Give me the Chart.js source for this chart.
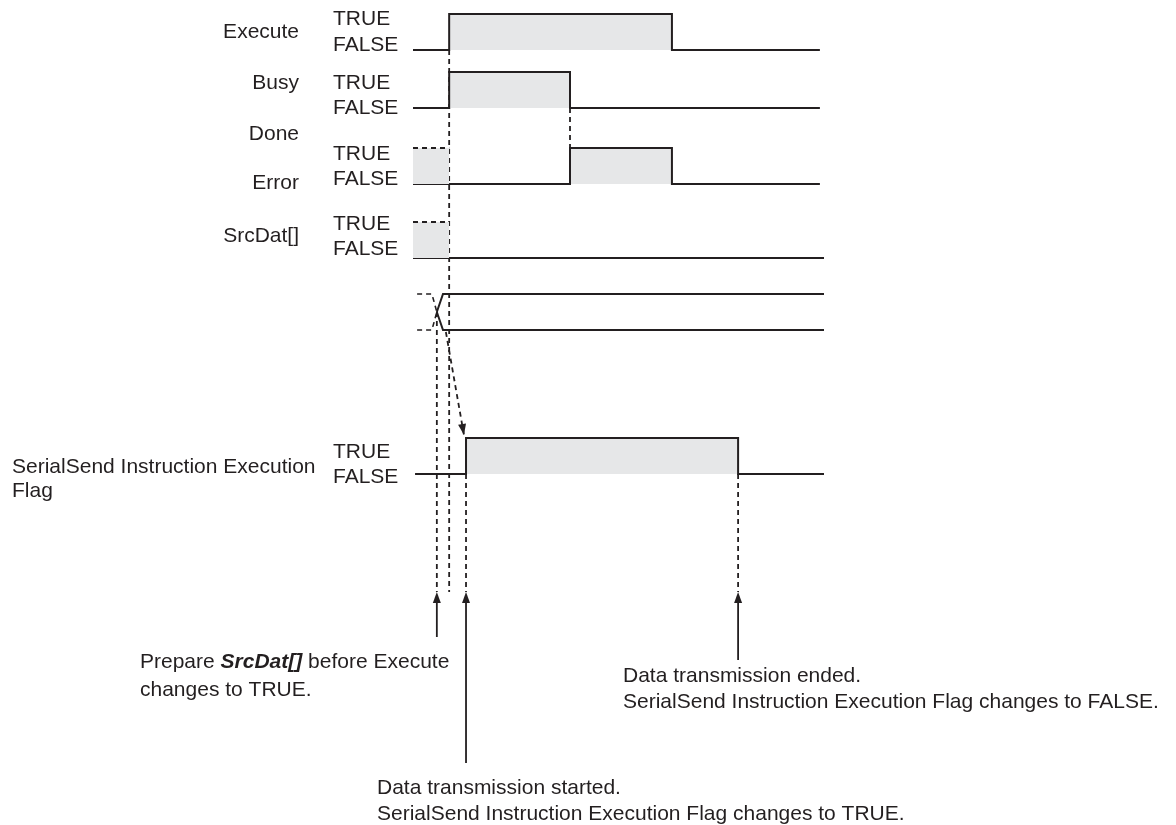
<!DOCTYPE html>
<html>
<head>
<meta charset="utf-8">
<title>SerialSend timing chart</title>
<script src="https://cdn.jsdelivr.net/npm/chart.js@4.4.1/dist/chart.umd.min.js"></script>
<style>
  html, body { margin: 0; padding: 0; background: #fff; }
  #wrap { width: 1176px; height: 825px; }
</style>
</head>
<body>
<div id="wrap"><canvas id="timing" width="1176" height="825"></canvas></div>
<script>
// Time runs 0..100 across the waveform span. Each signal: edge times + level after each edge.
const executeTimes = [0, 8.8, 63.0, 99];
const executeLevels = [0, 1, 0, 0];
const busyTimes = [0, 8.8, 38.2, 99];
const busyLevels = [0, 1, 0, 0];
const doneTimes = [0, 38.2, 63.0, 99];
const doneLevels = [0, 1, 0, 0];
const srcDatTimes = [0, 100];
const srcDatLevels = [0, 0];
const sendTimes = [0.5, 12.9, 79.1, 100];
const sendLevels = [0, 1, 0, 0];
// undefined ("don't care") span before Execute goes TRUE
const unknownTimes = [0, 8.8];
// data bus: old value (dashed) then new value crossing over
const busOldTimes = [1, 4.6, 5.8];
const busNewTimes = [5.8, 7.3, 100];
const busTopLevels = [1, 1, 0.5];
const busTopNewLevels = [0.5, 1, 1];
const busBottomLevels = [0, 0, 0.5];
const busBottomNewLevels = [0.5, 0, 0];

// event times marked by arrows
const prepareTime = 5.8;
const startTime = 12.9;
const endTime = 79.1;
const executeRise = 8.8;
const busyFall = 38.2;

const signalNames = ['Execute', 'Busy', 'Done', 'Error', 'SrcDat[]'];
const levelNames = ['TRUE', 'FALSE'];
const sendName = ['SerialSend Instruction Execution', 'Flag'];
const prepareNote = ['Prepare ', 'SrcDat[]', ' before Execute', 'changes to TRUE.'];
const endNote = ['Data transmission ended.', 'SerialSend Instruction Execution Flag changes to FALSE.'];
const startNote = ['Data transmission started.', 'SerialSend Instruction Execution Flag changes to TRUE.'];

// layout (pixels)
const INK = '#231f20';
const SHADE = '#e6e7e8';
const FONT = '"Liberation Sans", Arial, Helvetica, sans-serif';
const AMP = 36;
const LANE = { execute: 50, busy: 108, done: 184, srcDat: 258, bus: 330, send: 474 };
const ARROW_TIP = 592;
const DASH = [5, 4];

function wave(times, levels, low) {
  return times.map((t, i) => ({ x: t, y: low - levels[i] * AMP }));
}

function signal(times, levels, low) {
  return {
    data: wave(times, levels, low),
    stepped: 'before',
    borderColor: INK,
    borderWidth: 2,
    backgroundColor: SHADE,
    fill: { value: low },
    borderJoinStyle: 'miter'
  };
}

function unknown(low) {
  return {
    data: wave(unknownTimes, [1, 1], low),
    borderColor: INK,
    borderWidth: 1.8,
    borderDash: DASH,
    backgroundColor: SHADE,
    fill: { value: low }
  };
}

function plain(points, dashed, width) {
  return {
    data: points,
    borderColor: INK,
    borderWidth: width || 2,
    borderDash: dashed ? DASH : [],
    fill: false
  };
}

const datasets = [
  signal(executeTimes, executeLevels, LANE.execute),
  signal(busyTimes, busyLevels, LANE.busy),
  unknown(LANE.done),
  signal(doneTimes, doneLevels, LANE.done),
  unknown(LANE.srcDat),
  signal(srcDatTimes, srcDatLevels, LANE.srcDat),
  plain(wave(busOldTimes, busTopLevels, LANE.bus), true, 1.6),
  plain(wave(busOldTimes, busBottomLevels, LANE.bus), true, 1.6),
  plain(wave(busNewTimes, busTopNewLevels, LANE.bus), false, 2),
  plain(wave(busNewTimes, busBottomNewLevels, LANE.bus), false, 2),
  signal(sendTimes, sendLevels, LANE.send),
  // dashed guides
  plain([{ x: executeRise, y: LANE.execute }, { x: executeRise, y: ARROW_TIP }], true, 1.8),
  plain([{ x: busyFall, y: LANE.busy }, { x: busyFall, y: LANE.done - AMP }], true, 1.8),
  plain([{ x: prepareTime, y: LANE.bus - AMP / 2 }, { x: prepareTime, y: ARROW_TIP }], true, 1.8),
  plain([{ x: startTime, y: LANE.send }, { x: startTime, y: ARROW_TIP }], true, 1.8),
  plain([{ x: endTime, y: LANE.send }, { x: endTime, y: ARROW_TIP }], true, 1.8),
  // Execute -> flag causal arrow
  plain([{ x: 8.0, y: LANE.bus + 2 }, { x: 12.4, y: LANE.send - AMP - 3 }], true, 1.8),
  // annotation arrow shafts
  plain([{ x: prepareTime, y: ARROW_TIP + 8 }, { x: prepareTime, y: 637 }], false, 1.8),
  plain([{ x: startTime, y: ARROW_TIP + 8 }, { x: startTime, y: 763 }], false, 1.8),
  plain([{ x: endTime, y: ARROW_TIP + 8 }, { x: endTime, y: 660 }], false, 1.8)
];

function head(ctx, tipX, tipY, fromX, fromY) {
  const a = Math.atan2(tipY - fromY, tipX - fromX);
  const len = 11, half = 4;
  ctx.beginPath();
  ctx.moveTo(tipX, tipY);
  ctx.lineTo(tipX - len * Math.cos(a) + half * Math.sin(a), tipY - len * Math.sin(a) - half * Math.cos(a));
  ctx.lineTo(tipX - len * Math.cos(a) - half * Math.sin(a), tipY - len * Math.sin(a) + half * Math.cos(a));
  ctx.closePath();
  ctx.fill();
}

const annotations = {
  id: 'annotations',
  afterDraw(chart) {
    const ctx = chart.ctx;
    const xs = chart.scales.x, ys = chart.scales.y;
    ctx.save();
    ctx.fillStyle = INK;

    // arrow heads
    [prepareTime, startTime, endTime].forEach(t => {
      const px = xs.getPixelForValue(t);
      head(ctx, px, ys.getPixelForValue(ARROW_TIP), px, ys.getPixelForValue(ARROW_TIP + 20));
    });
    head(ctx, xs.getPixelForValue(12.4), ys.getPixelForValue(LANE.send - AMP - 3),
      xs.getPixelForValue(8.0), ys.getPixelForValue(LANE.bus + 2));

    ctx.font = '21px ' + FONT;
    ctx.textBaseline = 'middle';

    // signal names
    ctx.textAlign = 'right';
    [32, 83, 134, 183, 236].forEach((y, i) => ctx.fillText(signalNames[i], 299, y));

    // TRUE / FALSE
    ctx.textAlign = 'left';
    [[19, 45], [83, 108], [154, 179], [224, 249], [452, 477]].forEach(pair => {
      ctx.fillText(levelNames[0], 333, pair[0]);
      ctx.fillText(levelNames[1], 333, pair[1]);
    });

    ctx.fillText(sendName[0], 12, 467);
    ctx.fillText(sendName[1], 12, 491);

    // notes
    let x = 140;
    ctx.fillText(prepareNote[0], x, 662);
    x += ctx.measureText(prepareNote[0]).width;
    ctx.font = 'italic bold 21px ' + FONT;
    ctx.fillText(prepareNote[1], x, 662);
    x += ctx.measureText(prepareNote[1]).width;
    ctx.font = '21px ' + FONT;
    ctx.fillText(prepareNote[2], x, 662);
    ctx.fillText(prepareNote[3], 140, 690);

    ctx.fillText(endNote[0], 623, 676);
    ctx.fillText(endNote[1], 623, 702);

    ctx.fillText(startNote[0], 377, 788);
    ctx.fillText(startNote[1], 377, 814);
    ctx.restore();
  }
};

new Chart(document.getElementById('timing'), {
  type: 'line',
  data: { datasets: datasets },
  options: {
    responsive: false,
    animation: false,
    events: [],
    layout: { padding: { left: 413, right: 352, top: 0, bottom: 0 } },
    elements: { point: { radius: 0 }, line: { tension: 0, borderCapStyle: 'butt' } },
    scales: {
      x: { type: 'linear', min: 0, max: 100, display: false },
      y: { type: 'linear', min: 0, max: 825, reverse: true, display: false }
    },
    plugins: { legend: { display: false }, tooltip: { enabled: false } }
  },
  plugins: [annotations]
});
</script>
</body>
</html>
